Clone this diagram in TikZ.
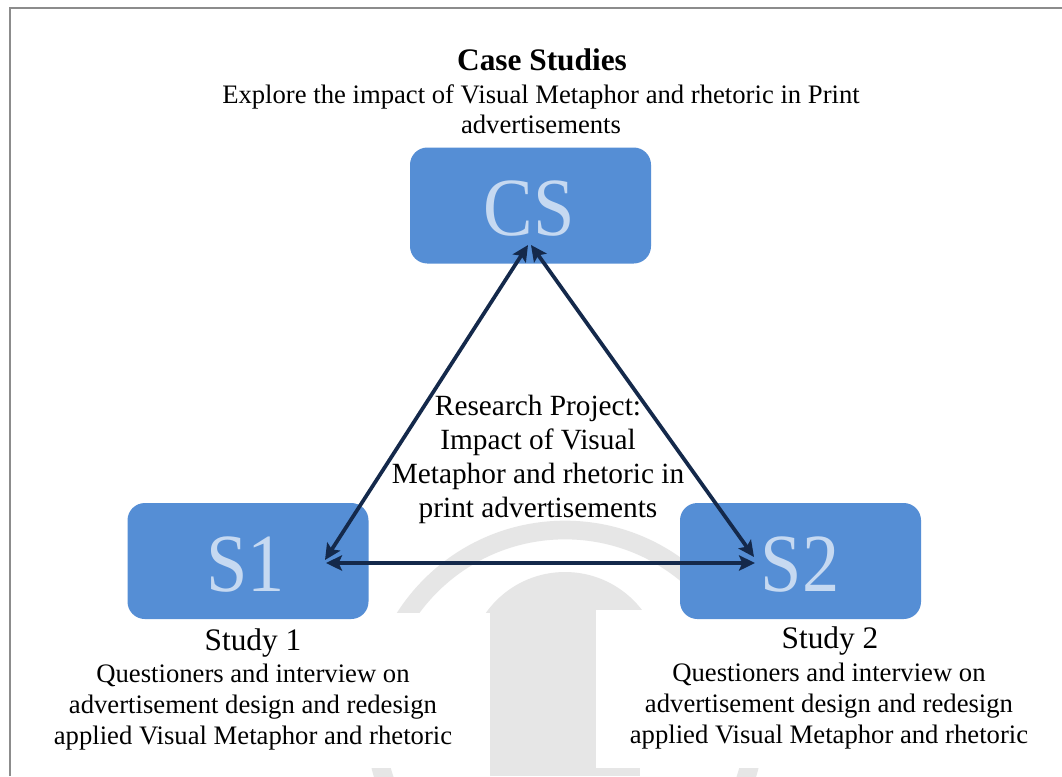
\documentclass[tikz,border=0pt]{standalone}
\usepackage{fontspec}
\setmainfont{Liberation Serif}
\newfontfamily\bigletters[FakeStretch=0.9]{Liberation Serif}
\usetikzlibrary{arrows.meta}
\definecolor{boxblue}{HTML}{558ED5}
\definecolor{letterblue}{HTML}{C6D9F1}
\definecolor{navy}{HTML}{14294B}
\definecolor{framegray}{HTML}{8C8C8C}
\definecolor{emblem}{HTML}{E6E6E6}
\begin{document}
\begin{tikzpicture}[x=0.75pt,y=-0.75pt,
  block/.style={fill=boxblue, draw=none, rounded corners=13pt,
    minimum width=180.75pt, minimum height=87pt, inner sep=0pt},
  tag/.style={text=letterblue, inner sep=0pt,
    font=\bigletters\fontsize{62}{62}\selectfont},
  link/.style={draw=navy, line width=2.8pt, {Stealth[length=12pt,width=11.5pt,inset=2.5pt]}-{Stealth[length=12pt,width=11.5pt,inset=2.5pt]}},
  title/.style={inner sep=0pt, font=\bfseries\fontsize{23.5}{26}\selectfont},
  body/.style={inner sep=0pt, align=center, font=\fontsize{20}{22.5}\selectfont},
  center/.style={inner sep=0pt, align=center, font=\fontsize{22}{25.5}\selectfont},
  studyhead/.style={inner sep=0pt, font=\fontsize{23.5}{26}\selectfont},
  studybody/.style={inner sep=0pt, align=center, font=\fontsize{20}{23.25}\selectfont}]
\useasboundingbox (0,0) rectangle (1062,776);
\fill[white] (0,0) rectangle (1062,776);

% faint emblem in the background
\draw[emblem, line width=14pt] (565,720) circle[radius=142.5pt];
\fill[emblem] (565,669) circle[radius=72.75pt];
\fill[emblem] (490,669) rectangle (640,776);

% white panels behind the study descriptions
\fill[white] (14,613) rectangle (490,768);
\fill[white] (596,610) rectangle (1062,768);

% page frame
\draw[framegray, line width=1pt] (10,776) -- (10,8) -- (1062,8);

% heading (base anchor = baseline of the last line)
\node[title, anchor=base] (head) at (542,70) {Case Studies};
\node[body, anchor=base] (aim) at (541,133)
  {Explore the impact of Visual Metaphor and rhetoric in Print\\advertisements};

% blocks
\node[block] (cs) at (530.5,205.5) {};
\node[block] (s1) at (248,561) {};
\node[block] (s2) at (800.5,561) {};
\node[tag] (cstag) at (529,208.5) {CS};
\node[tag] (s1tag) at (245.5,564.5) {S1};
\node[tag] (s2tag) at (800,565) {S2};

% centre text
\node[center, anchor=base] (project) at (538,517)
  {Research Project:\\Impact of Visual\\Metaphor and rhetoric in\\print advertisements};

% arrow end points inside the blocks
\coordinate (csL) at (528,245);
\coordinate (csR) at (531,245);
\coordinate (s1D) at (325,560);
\coordinate (s1H) at (326,563);
\coordinate (s2D) at (754,557);
\coordinate (s2H) at (755,563);
\draw[link] (s1D) -- (csL);
\draw[link] (csR) -- (s2D);
\draw[link] (s1H) -- (s2H);

% study descriptions
\node[studyhead, anchor=base] (st1) at (253,650) {Study 1};
\node[studybody, anchor=base] (st1d) at (253,744)
  {Questioners and interview on\\advertisement design and redesign\\applied Visual Metaphor and rhetoric};
\node[studyhead, anchor=base] (st2) at (830,648) {Study 2};
\node[studybody, anchor=base] (st2d) at (829,743)
  {Questioners and interview on\\advertisement design and redesign\\applied Visual Metaphor and rhetoric};
\end{tikzpicture}
\end{document}
